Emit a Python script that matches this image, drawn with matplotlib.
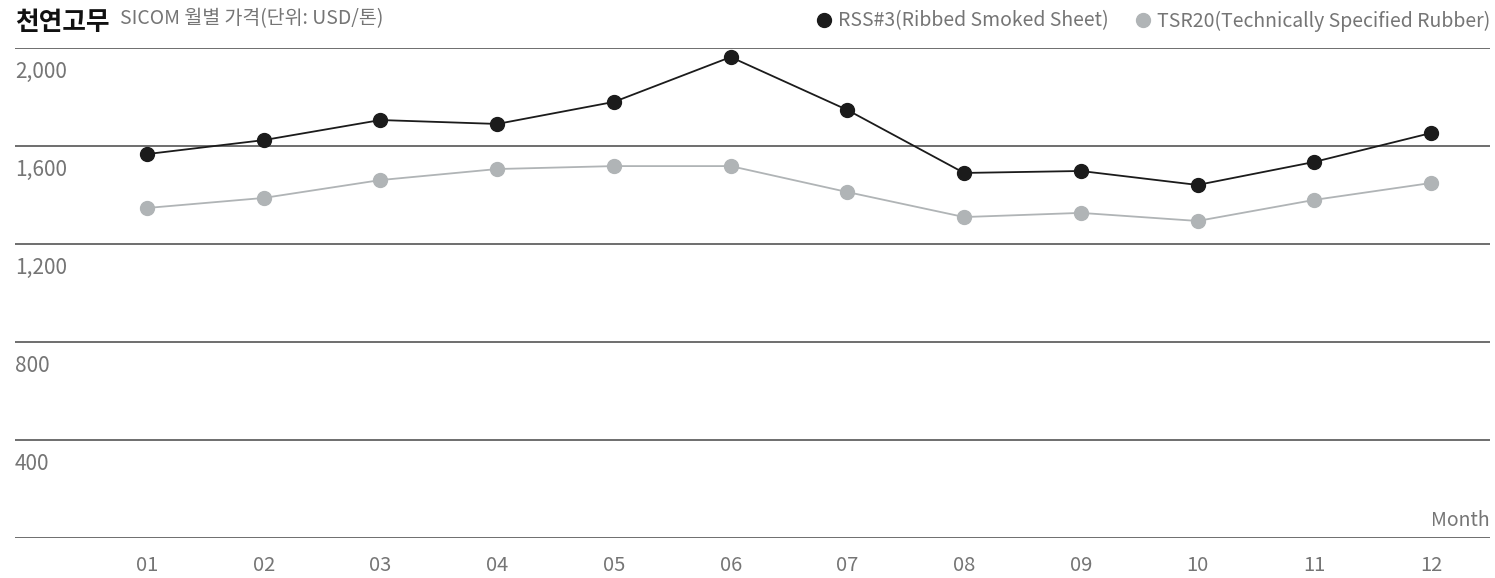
import matplotlib
matplotlib.use("Agg")
import matplotlib.pyplot as plt
from matplotlib.lines import Line2D

plt.rcParams['font.family'] = ['Noto Sans CJK KR', 'DejaVu Sans']

months = ["01", "02", "03", "04", "05", "06", "07", "08", "09", "10", "11", "12"]
rss3 = [1567, 1624, 1706, 1690, 1780, 1963, 1747, 1490, 1498, 1441, 1535, 1653]
tsr20 = [1347, 1388, 1461, 1506, 1518, 1518, 1412, 1310, 1327, 1294, 1380, 1449]
yticks = [0, 400, 800, 1200, 1600, 2000]
ytick_labels = ["", "400", "800", "1,200", "1,600", "2,000"]

W, H = 1495, 578
fig = plt.figure(figsize=(W / 100, H / 100), dpi=100)
ax = fig.add_axes([15 / W, (H - 538) / H, 1475 / W, 490 / H])

black = "#1b1b1b"
gray = "#b0b4b6"
txt = "#757575"
grid = "#555555"

x = list(range(len(months)))
ax.plot(x, tsr20, color=gray, lw=1.3, marker='o', ms=10, mec=gray, mfc=gray, zorder=3)
ax.plot(x, rss3, color=black, lw=1.3, marker='o', ms=10, mec=black, mfc=black, zorder=4)

ax.set_xlim(-1.131, 11.505)
ax.set_ylim(0, 2000)
for s in ax.spines.values():
    s.set_visible(False)
for v in yticks:
    ax.axhline(v, color=grid, lw=1.2, zorder=1)
ax.set_yticks([])
ax.set_xticks(x)
ax.set_xticklabels(months, fontsize=14.5, color=txt, fontweight='light')
ax.tick_params(axis='x', length=0, pad=12)

for v, lab in zip(yticks, ytick_labels):
    if lab:
        ax.text(-1.131, v - 98, lab, ha='left', va='center', fontsize=15,
                color=txt, fontweight='light')

ax.text(1.0, 18 / 490, "Month", transform=ax.transAxes, ha='right', va='center',
        fontsize=14, color=txt, fontweight='light')

fig.text(15 / W, 1 - 22 / H, "천연고무", ha='left', va='center', fontsize=18.5,
         fontweight='bold', color="#111111")
fig.text(120 / W, 1 - 19 / H, "SICOM 월별 가격(단위: USD/톤)", ha='left', va='center',
         fontsize=14, color=txt, fontweight='light')

handles = [Line2D([], [], ls='none', marker='o', ms=10, color=black),
           Line2D([], [], ls='none', marker='o', ms=10, color=gray)]
leg = fig.legend(handles, ["RSS#3(Ribbed Smoked Sheet)", "TSR20(Technically Specified Rubber)"],
                 loc='center right', bbox_to_anchor=(1490 / W, 1 - 21 / H), ncol=2,
                 frameon=False, fontsize=14, handletextpad=0.2, columnspacing=1.3,
                 handlelength=1.0, borderaxespad=0, borderpad=0)
for t in leg.get_texts():
    t.set_color(txt)

fig.savefig("out.png", dpi=100)
